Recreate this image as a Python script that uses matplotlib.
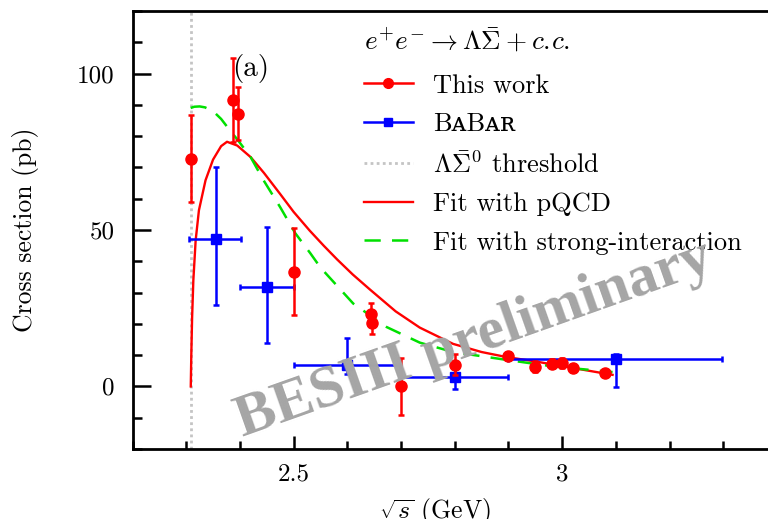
import matplotlib
matplotlib.use("Agg")
import matplotlib.pyplot as plt
from matplotlib.ticker import MultipleLocator, FixedLocator, FixedFormatter
from matplotlib.lines import Line2D

plt.rcParams['mathtext.fontset'] = 'cm'
plt.rcParams['font.family'] = ['cmr10', 'DejaVu Serif']
plt.rcParams['axes.formatter.use_mathtext'] = True

# ---------------- data ----------------
threshold = 2.3083

bes_x = [2.3094, 2.3864, 2.3960, 2.5000, 2.6444, 2.6464, 2.7000, 2.8000,
         2.9000, 2.9500, 2.9810, 3.0000, 3.0200, 3.0800]
bes_y = [72.8, 91.5, 87.2, 36.6, 23.2, 20.2, 0.0, 7.0,
         9.8, 6.3, 7.3, 7.5, 6.0, 4.4]
bes_err = [14.0, 13.5, 8.5, 13.9, 3.5, 3.5, 9.1, 3.5,
           1.2, 1.8, 1.5, 1.5, 1.3, 1.0]

babar_x = [2.355, 2.450, 2.600, 2.800, 3.100]
babar_y = [47.1, 31.8, 7.0, 3.0, 8.9]
babar_xlo = [0.049, 0.050, 0.100, 0.100, 0.200]
babar_xhi = [0.047, 0.050, 0.098, 0.100, 0.198]
babar_ylo = [21.2, 17.8, 3.0, 3.7, 9.1]
babar_yhi = [23.0, 19.1, 8.6, 3.5, 1.5]

pqcd_x = [2.3085, 2.3095, 2.311, 2.3133, 2.3176, 2.3237, 2.336, 2.350, 2.365,
          2.376, 2.395, 2.420, 2.445, 2.475, 2.500, 2.530, 2.556, 2.581, 2.610,
          2.642, 2.690, 2.735, 2.797, 2.850, 2.896, 2.950, 2.983, 3.030, 3.094]
pqcd_y = [0.0, 10.0, 22.0, 33.9, 46.7, 56.3, 65.9, 72.5, 76.8,
          78.2, 77.0, 73.3, 68.2, 61.5, 55.8, 49.8, 45.0, 40.6, 35.8,
          31.0, 24.0, 18.8, 13.6, 11.0, 9.4, 8.0, 7.0, 5.6, 3.7]

strong_x = [2.3083, 2.315, 2.325, 2.335, 2.350, 2.365, 2.383, 2.395, 2.420,
            2.444, 2.475, 2.503, 2.531, 2.550, 2.611, 2.673, 2.735, 2.797,
            2.896, 2.983, 3.094]
strong_y = [89.0, 89.4, 89.5, 89.2, 88.0, 85.5, 81.5, 79.0, 73.3,
            65.9, 57.3, 49.0, 42.6, 38.0, 26.5, 19.0, 14.0, 11.0,
            8.5, 6.4, 4.6]

xticks = [2.5, 3.0]
xticklabels = ['2.5', '3']
yticks = [0, 50, 100]
yticklabels = ['0', '50', '100']

labels = ['This work', 'B\u1d00B\u1d00\u0280', r'$\Lambda\bar{\Sigma}^0$ threshold',
          'Fit with pQCD', 'Fit with strong-interaction']
legend_title = r'$e^{+}e^{-}\rightarrow \Lambda\bar{\Sigma}+c.\!c.$'

# ---------------- figure ----------------
fig = plt.figure(figsize=(7.68, 5.19), dpi=100)
ax = fig.add_axes([132.5 / 768, 70 / 519, 644.4 / 768, 438 / 519])

red = '#ff0000'
blue = '#0000ff'
green = '#00e000'
thr_color = '#c4c4c4'

ax.axvline(threshold, color=thr_color, lw=2.0, ls=(0, (1, 1.2)), zorder=1)

ax.plot(pqcd_x, pqcd_y, color=red, lw=1.7, zorder=3)
ax.plot(strong_x, strong_y, color=green, lw=1.8, dashes=(6.5, 4.5), zorder=3)

ax.errorbar(babar_x, babar_y, xerr=[babar_xlo, babar_xhi], yerr=[babar_ylo, babar_yhi],
            fmt='s', color=blue, ms=7, lw=1.8, capsize=2.2, capthick=1.8, zorder=4)
ax.errorbar(bes_x, bes_y, yerr=bes_err, fmt='o', color=red, ms=8, lw=1.8,
            capsize=2.2, capthick=1.8, zorder=5)

ax.set_xlim(2.2, 3.4)
ax.set_ylim(-20, 120)

for s in ['left', 'bottom', 'top']:
    ax.spines[s].set_linewidth(2.0)
ax.spines['right'].set_visible(False)

ax.xaxis.set_major_locator(FixedLocator(xticks))
ax.xaxis.set_major_formatter(FixedFormatter(xticklabels))
ax.xaxis.set_minor_locator(MultipleLocator(0.1))
ax.yaxis.set_major_locator(FixedLocator(yticks))
ax.yaxis.set_major_formatter(FixedFormatter(yticklabels))
ax.yaxis.set_minor_locator(MultipleLocator(10))

ax.tick_params(axis='y', which='major', direction='in', length=13, width=1.8, pad=13, labelsize=18)
ax.tick_params(axis='y', which='minor', direction='in', length=6.7, width=1.8)
ax.tick_params(axis='x', which='major', direction='in', length=9.5, width=1.8, pad=10, labelsize=18)
ax.tick_params(axis='x', which='minor', direction='in', length=5.5, width=1.8)
ax.tick_params(top=False, right=False, which='both')

ax.set_ylabel('Cross section (pb)', fontsize=18.5)
ax.yaxis.set_label_coords(-(132.5 - 39) / 644.4, 0.5)
ax.set_xlabel(r'$\sqrt{s}$ (GeV)', fontsize=18.5)
ax.xaxis.set_label_coords((435 - 132.5) / 644.4, -(496 - 449) / 438)

ax.text(2.385, 101.5, '(a)', fontsize=21, ha='left', va='center')

handles = [
    Line2D([], [], color=red, lw=1.8, marker='o', ms=7),
    Line2D([], [], color=blue, lw=1.8, marker='s', ms=6),
    Line2D([], [], color=thr_color, lw=2.0, ls=(0, (1, 1.2))),
    Line2D([], [], color=red, lw=1.7),
    Line2D([], [], color=green, lw=1.8, dashes=(6.5, 4.5)),
]
leg = ax.legend(handles, labels,
                title=legend_title, title_fontsize=19.5, fontsize=19,
                loc='upper left', bbox_to_anchor=(364 / 768, 1 - 26 / 519),
                bbox_transform=fig.transFigure, frameon=False, borderpad=0,
                borderaxespad=0, handlelength=1.85, handletextpad=0.75,
                labelspacing=0.56, alignment='left')
leg._legend_box.sep = 14

fig.text(474 / 768, 1 - 340 / 519, 'BESIII preliminary', rotation=19.5,
         fontsize=43, fontweight='bold', family='Liberation Serif',
         color='#a5a5a5', ha='center', va='center', zorder=10)

fig.savefig('out.png', dpi=100)
